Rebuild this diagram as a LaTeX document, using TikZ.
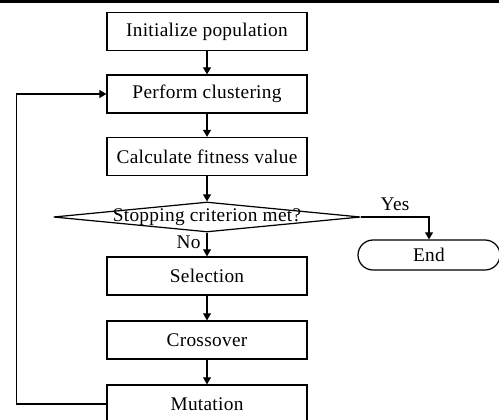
\documentclass[tikz,border=0pt]{standalone}
\usepackage{fontspec}
\setmainfont[LetterSpace=1.5]{Liberation Serif}
\usetikzlibrary{arrows.meta}
\usetikzlibrary{shapes.geometric}

\begin{document}
\begin{tikzpicture}[x=0.02cm,y=-0.02cm,line width=0.7pt,
  >={Triangle[length=4pt,width=4.5pt]},
  font=\fontsize{11}{13}\selectfont,
  box/.style={draw,minimum width=4cm,minimum height=0.76cm,inner sep=0pt},
  decision/.style={draw,diamond,minimum width=6.14cm,minimum height=0.6cm,inner sep=0pt},
  term/.style={draw,rounded corners=0.3cm,minimum width=2.84cm,minimum height=0.6cm,inner sep=0pt}]
\clip (0,0) rectangle (499,419);
\fill (0,0) rectangle (499,3);
% main column
\node[box] (init) at (207,31.5) {Initialize population};
\node[box] (clu) at (207,94) {Perform clustering};
\node[box] (fit) at (207,156.5) {Calculate fitness value};
\node[decision,label={center:Stopping criterion met?}] (stop) at (207,217) {};
\node[box] (sel) at (207,276) {Selection};
\node[box] (cro) at (207,340) {Crossover};
\node[box] (mut) at (207,404) {Mutation};
\node[term] (end) at (429,255) {End};
% arrows
\draw[->] (init) -- (clu);
\draw[->] (clu) -- (fit);
\draw[->] (fit) -- (stop);
\draw[->] (stop.south) -- node[left,pos=0.4] {No} (sel.north);
\draw[->] (sel) -- (cro);
\draw[->] (cro) -- (mut);
\draw[->] (stop.east) -| node[pos=0.25,above] {Yes} (end.north);
% loop back
\draw[->] (mut.west) -- ++(-90,0) |- (clu.west);
\end{tikzpicture}
\end{document}
